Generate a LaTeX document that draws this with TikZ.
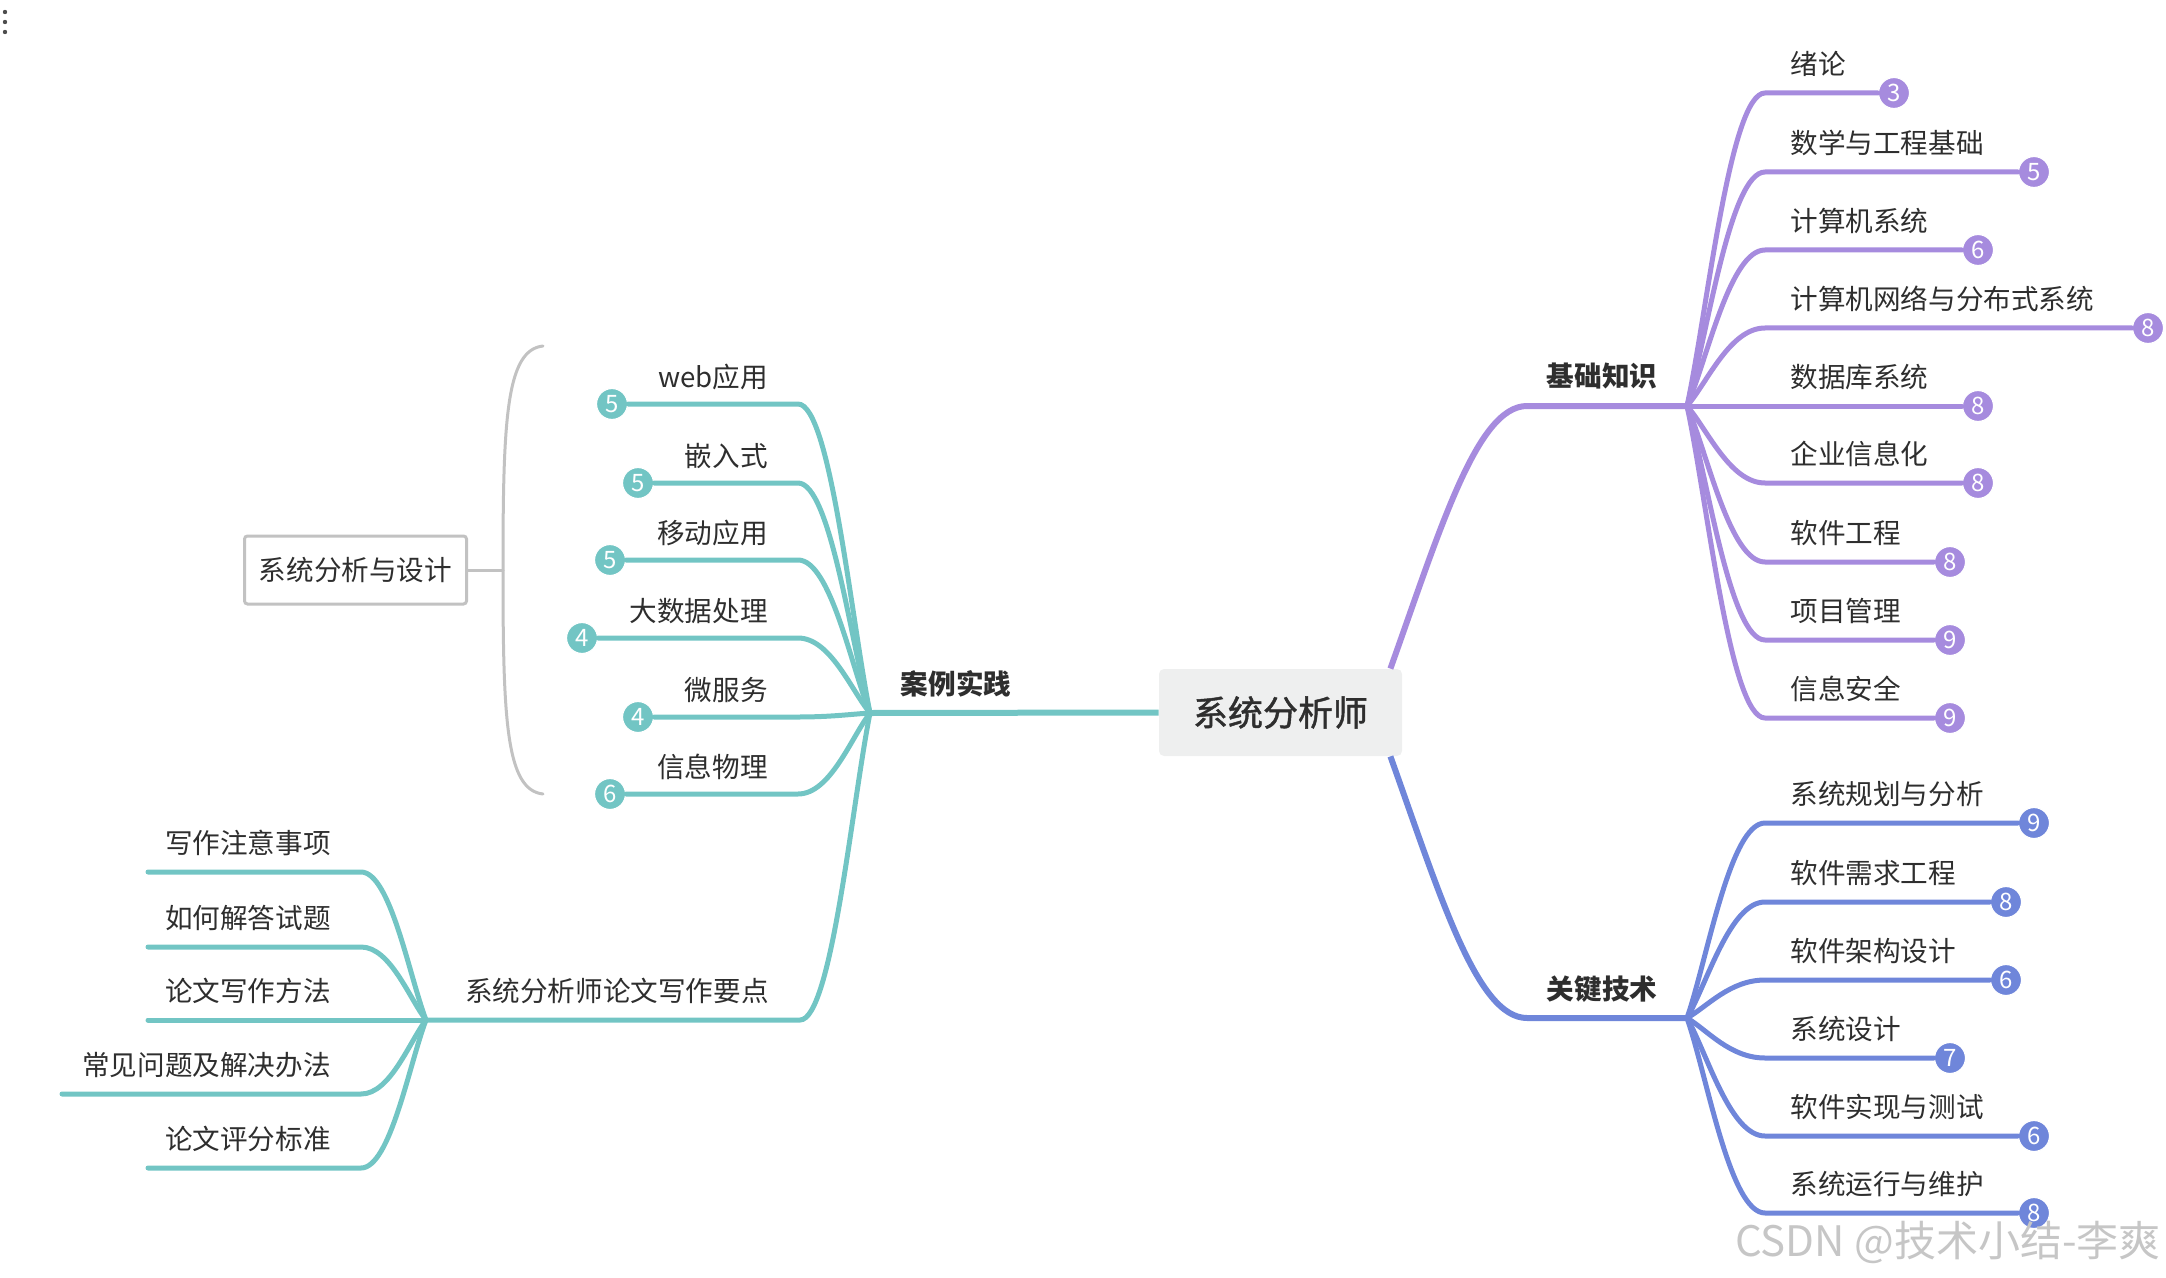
\documentclass[tikz,border=0pt]{standalone}
\usepackage{fontspec}
\setmainfont{Noto Sans CJK SC}
\newfontfamily\ctrfont{Noto Sans CJK SC}[BoldFont={Noto Sans CJK SC}, BoldFeatures={FakeBold=1.3}]
\usetikzlibrary{calc}
\definecolor{tealc}{HTML}{72C5C4}
\definecolor{purpc}{HTML}{A68BDE}
\definecolor{bluec}{HTML}{6F86DA}
\definecolor{txtc}{HTML}{2E2E2E}
\definecolor{grayc}{HTML}{C2C2C2}
\definecolor{ctrfill}{HTML}{EEEFEF}
% #1 fan coordinate, #2 target (badge node or coordinate), #3 horizontal offset, #4 style
\newcommand\mmbranch[4]{%
  \draw[#4] (#1) .. controls ($(#1)!0.3!(#1 |- #2)+(#3*0.26,0)$) and ($(#1 |- #2)+(#3*0.55,0)$) .. ($(#1 |- #2)+(#3,0)$) -- (#2);}
\begin{document}
\begin{tikzpicture}[x=0.5pt,y=-0.5pt,
  every node/.style={text=txtc},
  lab/.style={font=\fontsize{13.8}{15}\selectfont, inner sep=0pt},
  lvlone/.style={font=\fontsize{13.8}{15}\selectfont\bfseries, inner sep=0pt},
  ctr/.style={fill=ctrfill, rounded corners=2.5pt, minimum width=121.5pt, minimum height=43.5pt, inner sep=0pt, font=\fontsize{17.5}{19}\ctrfont\bfseries},
  badge/.style={circle, fill=#1, draw=white, line width=0.6pt, text=white, inner sep=0pt, minimum size=15.5pt, font=\fontsize{12}{12}\selectfont},
  lnT/.style={draw=tealc, line width=2.5pt, line cap=round},
  lnP/.style={draw=purpc, line width=2.5pt, line cap=round},
  lnB/.style={draw=bluec, line width=2.5pt, line cap=round},
  lnG/.style={draw=grayc, line width=1.5pt, line cap=round},
  mainT/.style={draw=tealc, line width=3pt},
  mainP/.style={draw=purpc, line width=3pt},
  mainB/.style={draw=bluec, line width=3pt},
  gbox/.style={draw=grayc, line width=1.5pt, rounded corners=1.5pt, minimum width=111pt, minimum height=34pt, inner sep=0pt, font=\fontsize{13.8}{15}\selectfont}
]
\useasboundingbox (0,0) rectangle (2166,1278);

% menu dots
\fill[txtc!85] (5,12) circle (1.1pt);
\fill[txtc!85] (5,22) circle (1.1pt);
\fill[txtc!85] (5,32) circle (1.1pt);

% central topic
\node[ctr] (c) at (1280.5,712.5) {系统分析师};

% fan points
\coordinate (pf) at (1687,406);
\coordinate (bf) at (1687,1018);
\coordinate (tf) at (870,713);
\coordinate (ef) at (426,1020);

% main topics
\node[lvlone] (pk) at (1602,376) {基础知识};
\node[lvlone] (kk) at (1602,989) {关键技术};
\node[lvlone] (al) at (956,684) {案例实践};
\node[lab, anchor=east] (lw) at (769,991) {系统分析师论文写作要点};

\draw[mainP] ($(c.north east)+(-12,0)$) .. controls +(50,-140) and +(-50,0) .. ($(pf)+(-160,0)$) -- (pf);
\draw[mainB] ($(c.south east)+(-12,0)$) .. controls +(50,140) and +(-50,0) .. ($(bf)+(-160,0)$) -- (bf);
\draw[mainT] (c.west) -- (tf);

% purple children
\foreach \i/\t/\y/\bx/\n in {1/绪论/93/1894/3, 2/数学与工程基础/172/2034/5, 3/计算机系统/250/1978/6, 4/计算机网络与分布式系统/328/2148/8, 5/数据库系统/406/1978/8, 6/企业信息化/483/1978/8, 7/软件工程/562/1950/8, 8/项目管理/640/1950/9, 9/信息安全/718/1950/9} {
  \node[badge=purpc] (p\i) at (\bx,\y) {\n};
  \node[lab, anchor=west] (pl\i) at (1790,\y-29) {\t};
  \mmbranch{pf}{p\i}{78}{lnP}
}

% blue children
\foreach \i/\t/\y/\bx/\n in {1/系统规划与分析/823/2034/9, 2/软件需求工程/902/2006/8, 3/软件架构设计/980/2006/6, 4/系统设计/1058/1950/7, 5/软件实现与测试/1136/2034/6, 6/系统运行与维护/1213/2034/8} {
  \node[badge=bluec] (k\i) at (\bx,\y) {\n};
  \node[lab, anchor=west] (kl\i) at (1790,\y-29) {\t};
  \mmbranch{bf}{k\i}{78}{lnB}
}

% teal children
\foreach \i/\t/\y/\bx/\n in {1/web应用/404/612/5, 2/嵌入式/483/638/5, 3/移动应用/560/610/5, 4/大数据处理/638/582/4, 5/微服务/717/638/4, 6/信息物理/794/610/6} {
  \node[badge=tealc] (t\i) at (\bx,\y) {\n};
  \node[lab, anchor=east] (tl\i) at (768,\y-27) {\t};
  \mmbranch{tf}{t\i}{-72}{lnT}
}

% essay branch
\mmbranch{tf}{ef}{-70}{lnT}
\foreach \i/\t/\y/\ex in {1/写作注意事项/872/148, 2/如何解答试题/947/148, 3/论文写作方法/1020/148, 4/常见问题及解决办法/1094/62, 5/论文评分标准/1168/148} {
  \coordinate (e\i) at (\ex,\y);
  \node[lab, anchor=east] (el\i) at (331,\y-29) {\t};
  \mmbranch{ef}{e\i}{-65}{lnT}
}

% summary bracket
\node[gbox] (sad) at (355.5,570) {系统分析与设计};
\coordinate (brT) at (543,346);
\coordinate (brM) at (503,570);
\coordinate (brB) at (543,794);
\draw[lnG] (brT) .. controls (506,350) and (503,420) .. (brM) .. controls (503,720) and (506,790) .. (brB);
\draw[lnG] (sad.east) -- (brM);

% watermark
\node[font=\fontsize{21}{21}\selectfont, text=gray!45, inner sep=0pt] (wm) at (1948,1242) {CSDN @技术小结-李爽};
\end{tikzpicture}
\end{document}
